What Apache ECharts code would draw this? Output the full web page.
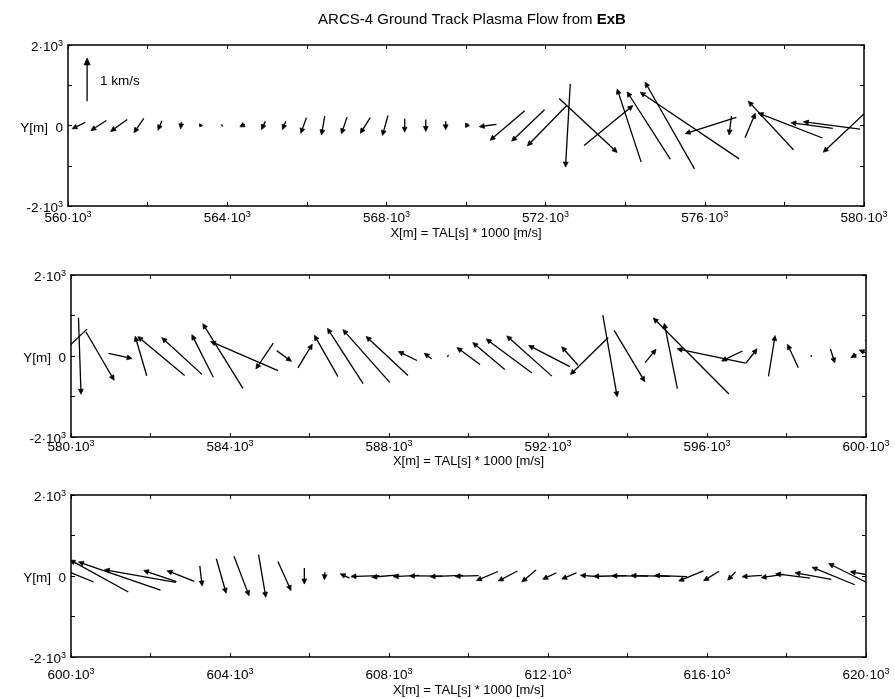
<!DOCTYPE html>
<html>
<head>
<meta charset="utf-8">
<title>ARCS-4 Ground Track Plasma Flow from ExB</title>
<script src="https://cdn.jsdelivr.net/npm/echarts@6/dist/echarts.min.js"></script>
<style>
  html, body { margin: 0; padding: 0; background: #fff; }
  #chart { width: 895px; height: 699px; }
</style>
</head>
<body>
<div id="chart"></div>
<script>
// Flow samples along the ground track. X = TAL[s] * 1000 [m/s]; each arrow is centred on Y = 0.
// Time after launch of each sample (s)
const talSec = [
  560.27, 560.77, 561.28, 561.78, 562.31, 562.84, 563.33, 563.87, 564.38, 564.91,
  565.43, 565.92, 566.41, 566.94, 567.47, 567.97, 568.46, 568.99, 569.49, 570.02,
  570.55, 571.04, 571.56, 572.04, 572.56, 573.07, 573.58, 574.10, 574.59, 575.12,
  575.62, 576.15, 576.64, 577.14, 577.66, 578.15, 578.69, 579.19, 579.69,
  580.22, 580.73, 581.24, 581.76, 582.27, 582.79, 583.31, 583.82, 584.36, 584.87,
  585.36, 585.89, 586.42, 586.90, 587.43, 587.95, 588.47, 588.98, 589.48, 590.00,
  590.51, 591.02, 591.53, 592.03, 592.55, 593.04, 593.56, 594.05, 594.58, 595.09,
  595.60, 596.11, 596.63, 597.12, 597.63, 598.16, 598.63, 599.16, 599.69,
  600.20, 600.71, 601.22, 601.74, 602.24, 602.76, 603.27, 603.78, 604.29, 604.81,
  605.37, 605.87, 606.38, 606.89, 607.40, 607.91, 608.43, 608.93, 609.45, 609.96,
  610.47, 610.99, 611.52, 612.04, 612.53, 613.05, 613.56, 614.06, 614.58, 615.09,
  615.60, 616.11, 616.62, 617.13, 617.65, 618.16, 618.67, 619.18, 619.69, 620.20
];
// Along-track flow component (m/s)
const flowU = [
  -310, -360, -385, -230, -90, -15, -40, -20, -115, -90,
  -75, -130, -75, -130, -230, -130, 0, 0, 0, -60,
  -400, -805, -765, -920, -110, 1350, 1135, -560, -1005, -1150,
  -2300, -1190, -55, 240, -1050, -1495, -975, -1320, -1320,
  60, 660, 550, -270, -1090, -935, -500, -935, -1570, -405,
  345, 335, -550, -830, -1090, -975, -435, -175, -20, -535,
  -745, -1065, -1050, -960, -380, -880, 335, 715, 255, -305,
  -1760, -1595, -485, 260, 155, -255, -15, 100, -130,
  -690, -1355, -1910, -1665, -765, -635, 55, 230, 350, 170,
  305, 0, -15, -215, -660, -640, -600, -770, -770, -550,
  -500, -445, -330, -320, -345, -435, -760, -840, -910, -760,
  -575, -360, -185, -460, -535, -805, -845, -995, -1165, -1100
];
// Cross-track flow component (m/s)
const flowV = [
  -150, -230, -275, -330, -215, -155, -60, -10, -60, -190,
  -190, -360, -435, -385, -360, -460, -305, -275, -195, -90,
  -55, -680, -725, -935, -1915, -1240, 920, 1685, 1550, 1995,
  1535, -370, -435, 560, 1115, 575, 130, 170, -1230,
  -1750, -1110, -115, 905, 890, 840, 975, 1480, 665, -590,
  -245, 540, 945, 1265, 1205, 895, 205, 130, 10, 385,
  615, 780, 920, 485, 425, -845, -1865, -1175, 305, 1495,
  1740, 330, -230, 330, 935, 535, 10, -320, -75,
  275, 730, 645, 290, 255, 245, -460, -790, -905, -975,
  -665, -370, -170, 100, -20, -55, -25, 5, -30, -15,
  -205, -230, -275, -150, -140, 35, -15, 10, 20, 25,
  -230, -215, -190, -30, -75, 100, 150, 400, 570, 200
];
// Along-track extent of each strip (m)
const stripStart = [560000, 580000, 600000];
const stripEnd = [580000, 600000, 620000];
const yLimits = [-2000, 2000];
// Reference arrow: speed (m/s) and where its tail sits (m)
const refSpeed = 1000;
const refTail = [560480, 600];
const refLabel = '1 km/s';

// plot metres drawn per 1 m/s of flow
const ARROW_SCALE = 1.08;
const FONT = 'Liberation Sans, Arial, Helvetica, sans-serif';
const LABEL_SIZE = 13.5;

const flowData = talSec.map((t, i) => [t * 1000, flowU[i], flowV[i]]);

function arrowShapes(p0, p1, headLen, headHalf, width) {
  const dx = p1[0] - p0[0], dy = p1[1] - p0[1];
  const len = Math.sqrt(dx * dx + dy * dy);
  const style = { stroke: '#000', lineWidth: width, fill: null };
  if (len < 0.8) {
    return [{ type: 'circle', shape: { cx: p1[0], cy: p1[1], r: 0.9 }, style: { fill: '#000' } }];
  }
  const ux = dx / len, uy = dy / len;
  const hl = Math.min(headLen, len * 0.8);
  const hh = headHalf * Math.min(1, hl / headLen + 0.3);
  const bx = p1[0] - ux * hl, by = p1[1] - uy * hl;
  return [
    { type: 'line', shape: { x1: p0[0], y1: p0[1], x2: bx, y2: by }, style },
    {
      type: 'polygon',
      shape: { points: [p1, [bx - uy * hh, by + ux * hh], [bx + uy * hh, by - ux * hh]] },
      style: { fill: '#000', stroke: '#000', lineWidth: 0.7 }
    }
  ];
}

function renderFlow(params, api) {
  const x = api.value(0), u = api.value(1), v = api.value(2);
  const dx = u * ARROW_SCALE, dy = v * ARROW_SCALE;
  const p0 = api.coord([x - dx / 2, -dy / 2]);
  const p1 = api.coord([x + dx / 2, dy / 2]);
  return { type: 'group', children: arrowShapes(p0, p1, 5, 2.4, 1.3) };
}

function renderRef(params, api) {
  const x = api.value(0), y = api.value(1), s = api.value(2);
  const p0 = api.coord([x, y]);
  const p1 = api.coord([x, y + s * ARROW_SCALE]);
  const kids = arrowShapes(p0, p1, 7, 3, 1.3);
  kids.push({
    type: 'text',
    x: p0[0] + 13, y: (p0[1] + p1[1]) / 2 + 2,
    style: { text: refLabel, fill: '#000', font: '13.5px ' + FONT, verticalAlign: 'middle', align: 'left' }
  });
  return { type: 'group', children: kids };
}

const richNum = {
  b: { fontSize: LABEL_SIZE, fontFamily: FONT, color: '#000', lineHeight: 17 },
  s: { fontSize: 9, fontFamily: FONT, color: '#000', lineHeight: 17, verticalAlign: 'top' }
};

const gridBoxes = [
  { left: 68, right: 31, top: 45, height: 161 },
  { left: 71, right: 29, top: 275, height: 162 },
  { left: 71, right: 29, top: 495, height: 162 }
];
// tick-label offset and axis-title gap below each strip
const labelMargin = [4, 2, 10];
const titleGap = [21, 17, 27];

const axisLineStyle = { show: true, onZero: false, lineStyle: { color: '#000', width: 1.5 } };
const tickStyle = { show: true, inside: true, length: 4, lineStyle: { color: '#000', width: 1 } };

const xAxes = [], yAxes = [], series = [];
gridBoxes.forEach((g, k) => {
  const lo = stripStart[k];
  xAxes.push({
    type: 'value', gridIndex: k, position: 'bottom', min: lo, max: stripEnd[k], interval: 2000,
    axisLine: axisLineStyle, axisTick: tickStyle, splitLine: { show: false },
    axisLabel: {
      interval: 0, margin: labelMargin[k], showMinLabel: true, showMaxLabel: true, rich: richNum,
      formatter: val => ((val - lo) % 4000 === 0 ? '{b|' + Math.round(val / 1000) + '·10}{s|3}' : '')
    },
    name: 'X[m] = TAL[s] * 1000 [m/s]', nameLocation: 'middle', nameGap: titleGap[k],
    nameTextStyle: { color: '#000', fontFamily: FONT, fontSize: 13 }
  });
  xAxes.push({
    type: 'value', gridIndex: k, position: 'top', min: lo, max: stripEnd[k], interval: 2000,
    axisLine: axisLineStyle, axisTick: tickStyle, axisLabel: { show: false }, splitLine: { show: false }
  });
  yAxes.push({
    type: 'value', gridIndex: k, position: 'left', min: yLimits[0], max: yLimits[1], interval: 1000,
    axisLine: axisLineStyle, axisTick: tickStyle, splitLine: { show: false },
    axisLabel: {
      interval: 0, margin: 5, padding: [5, 0, 0, 0], rich: richNum,
      formatter: val => {
        if (val === 0) return '{b|Y[m]  0}';
        if (Math.abs(val) === 2000) return '{b|' + (val < 0 ? '-' : '') + '2·10}{s|3}';
        return '';
      }
    }
  });
  yAxes.push({
    type: 'value', gridIndex: k, position: 'right', min: yLimits[0], max: yLimits[1], interval: 1000,
    axisLine: axisLineStyle, axisTick: tickStyle, axisLabel: { show: false }, splitLine: { show: false }
  });
  series.push({
    type: 'custom', xAxisIndex: 2 * k, yAxisIndex: 2 * k, clip: true,
    renderItem: renderFlow, data: flowData, silent: true, animation: false
  });
});
series.push({
  type: 'custom', xAxisIndex: 0, yAxisIndex: 0, clip: true,
  renderItem: renderRef, data: [[refTail[0], refTail[1], refSpeed]], silent: true, animation: false
});

const chart = echarts.init(document.getElementById('chart'), null, { renderer: 'canvas' });
chart.setOption({
  backgroundColor: '#fff',
  animation: false,
  title: {
    text: 'ARCS-4 Ground Track Plasma Flow from {e|ExB}',
    left: 467, top: 7, textAlign: 'center',
    textStyle: {
      fontFamily: FONT, fontSize: 15, fontWeight: 'normal', color: '#000',
      rich: { e: { fontFamily: FONT, fontSize: 15, fontWeight: 'bold', color: '#000' } }
    }
  },
  grid: gridBoxes,
  xAxis: xAxes,
  yAxis: yAxes,
  series: series
});
</script>
</body>
</html>
